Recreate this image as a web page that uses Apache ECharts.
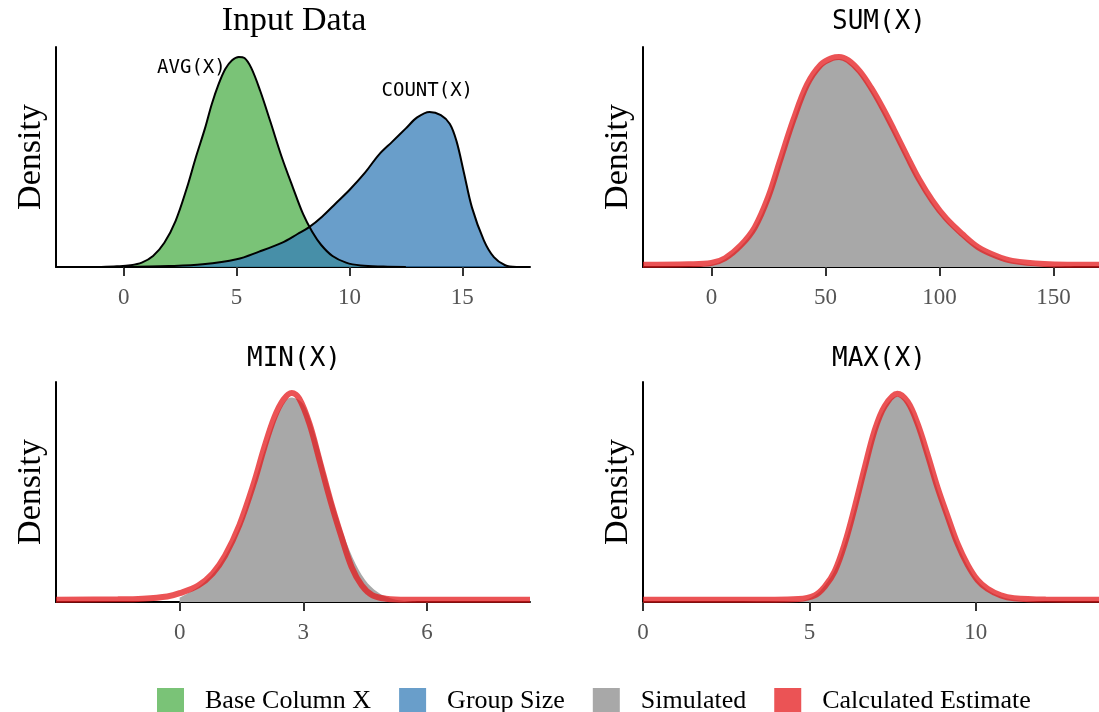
<!DOCTYPE html>
<head>
    <meta charset="utf-8"/>
    <style>
        html, body {
            height: 100%;
            margin: 0;
            background: #fff;
        }
    </style>
    <script src="https://cdn.jsdelivr.net/npm/echarts@6/dist/echarts.min.js"></script>
</head>
<body>
<div id="main" style="width: 1099px; height: 712px;"></div>
<script type="text/javascript">
 // input data densities (y is relative height, 1 = top of panel)
 var avgX = [-1, -0.3, 0.3, 0.8, 1.3, 1.8, 2.3, 2.8, 3.2, 3.6, 3.9, 4.2, 4.5, 4.8, 5.1, 5.35, 5.65, 6.05, 6.5, 7.0, 7.5, 7.95, 8.35, 8.75, 9.25, 9.85, 10.5, 11.5, 12.5];
 var avgY = [0, 0.003, 0.008, 0.02, 0.05, 0.11, 0.21, 0.36, 0.5, 0.63, 0.74, 0.83, 0.9, 0.94, 0.955, 0.95, 0.905, 0.8, 0.66, 0.5, 0.36, 0.24, 0.16, 0.1, 0.05, 0.02, 0.007, 0.002, 0];
 var countX = [0, 2, 3.5, 5, 6, 7, 7.7, 8.2, 8.8, 9.4, 10, 10.7, 11.3, 11.9, 12.5, 13.0, 13.55, 14.05, 14.45, 14.75, 15.07, 15.43, 15.96, 16.4, 16.9, 17.4];
 var countY = [0, 0.004, 0.012, 0.035, 0.07, 0.11, 0.15, 0.18, 0.23, 0.29, 0.35, 0.43, 0.51, 0.57, 0.63, 0.68, 0.705, 0.69, 0.65, 0.57, 0.43, 0.27, 0.12, 0.045, 0.008, 0];

 // SUM(X)
 var sumX = [-30, -10, 0, 6, 13, 19, 25, 30, 36, 42, 48, 53, 56, 60, 65, 70, 75, 80, 86, 91, 97, 103, 110, 117, 125, 132, 146, 170];
 var sumEst = [0.01, 0.012, 0.018, 0.04, 0.1, 0.18, 0.32, 0.48, 0.67, 0.83, 0.92, 0.95, 0.955, 0.94, 0.89, 0.815, 0.725, 0.625, 0.5, 0.4, 0.3, 0.22, 0.15, 0.09, 0.05, 0.028, 0.014, 0.01];
 var sumSim = [0, 0, 0.01, 0.035, 0.095, 0.175, 0.31, 0.47, 0.66, 0.82, 0.91, 0.94, 0.945, 0.93, 0.88, 0.805, 0.715, 0.615, 0.49, 0.39, 0.29, 0.21, 0.14, 0.085, 0.045, 0.022, 0.005, 0];

 // MIN(X)
 var minX = [-3, -1.5, -0.9, -0.3, 0, 0.45, 0.8, 1.1, 1.45, 1.8, 2.05, 2.3, 2.52, 2.72, 2.9, 3.15, 3.4, 3.66, 3.92, 4.17, 4.42, 4.68, 5.0, 5.5, 8.5];
 var minEst = [0.01, 0.012, 0.015, 0.025, 0.04, 0.075, 0.13, 0.21, 0.35, 0.54, 0.70, 0.84, 0.92, 0.95, 0.925, 0.81, 0.64, 0.46, 0.3, 0.16, 0.075, 0.03, 0.015, 0.01, 0.01];
 var minSimX = [0, 0.3, 0.6, 0.9, 1.2, 1.5, 1.8, 2.1, 2.4, 2.7, 3.0, 3.3, 3.6, 3.9, 4.2, 4.5, 4.8, 5.1, 5.4, 5.8];
 var minSim = [0.02, 0.05, 0.09, 0.15, 0.24, 0.36, 0.53, 0.71, 0.86, 0.93, 0.9, 0.75, 0.54, 0.35, 0.2, 0.1, 0.045, 0.018, 0.006, 0];

 // MAX(X)
 var maxX = [0, 3, 4.67, 5.16, 5.46, 5.76, 6.06, 6.36, 6.66, 6.96, 7.26, 7.64, 7.95, 8.25, 8.55, 8.85, 9.15, 9.45, 9.75, 10.05, 10.35, 10.75, 11.15, 12.1, 13.7];
 var maxEst = [0.01, 0.01, 0.014, 0.03, 0.07, 0.14, 0.265, 0.43, 0.61, 0.78, 0.89, 0.947, 0.91, 0.81, 0.67, 0.52, 0.39, 0.265, 0.17, 0.1, 0.06, 0.03, 0.017, 0.011, 0.01];
 var maxSim = [0, 0, 0.004, 0.03, 0.075, 0.145, 0.265, 0.42, 0.6, 0.77, 0.88, 0.935, 0.9, 0.8, 0.66, 0.51, 0.38, 0.26, 0.165, 0.095, 0.055, 0.025, 0.01, 0, 0];

 // axis ranges and tick labels
 var xRanges = [[-3, 18], [-30, 170], [-3, 8.5], [0, 13.7]];
 var xTicks = [[0, 5, 10, 15], [0, 50, 100, 150], [0, 3, 6], [0, 5, 10]];
 var titles = ['Input Data', 'SUM(X)', 'MIN(X)', 'MAX(X)'];

 var serif = 'Liberation Serif';
 var mono = 'DejaVu Sans Mono';
 var GREEN = '#4DAF4A', BLUE = '#377EB8', RED = '#E41A1C', GRAY = '#A8A8A8';

 function pairs(xs, ys) {
     var out = [];
     for (var i = 0; i < xs.length; i++) out.push([xs[i], ys[i]]);
     return out;
 }

 var grids = [
     {left: 56, top: 47, width: 474, height: 220},
     {left: 643, top: 47, right: 0, height: 220},
     {left: 56, top: 382, width: 474, height: 220},
     {left: 643, top: 382, right: 0, height: 220}
 ];

 var xAxes = [], yAxes = [];
 for (var i = 0; i < 4; i++) {
     xAxes.push({
         type: 'value', gridIndex: i, min: xRanges[i][0], max: xRanges[i][1],
         splitLine: {show: false},
         axisLine: {onZero: false, lineStyle: {color: '#000', width: 2}},
         axisTick: {show: true, length: 9, lineStyle: {color: '#333', width: 2}, customValues: xTicks[i]},
         axisLabel: {customValues: xTicks[i], margin: 19, fontFamily: serif, fontSize: 23, color: '#555'}
     });
     yAxes.push({
         type: 'value', gridIndex: i, min: 0, max: 1,
         name: 'Density', nameLocation: 'middle', nameRotate: 90, nameGap: 8,
         nameTextStyle: {fontFamily: serif, fontSize: 34, color: '#000'},
         splitLine: {show: false},
         axisTick: {show: false},
         axisLabel: {show: false},
         axisLine: {show: true, onZero: false, lineStyle: {color: '#000', width: 2}}
     });
 }

 var titleList = [];
 var centers = [294, 879, 294, 879];
 var tops = [4, 9, 346, 346];
 for (var i = 0; i < 4; i++) {
     titleList.push({
         text: titles[i], left: centers[i], top: tops[i], textAlign: 'center', padding: 0,
         textStyle: {fontFamily: i === 0 ? serif : mono, fontSize: i === 0 ? 34 : 26, fontWeight: 'normal', color: '#000'}
     });
 }

 function simSeries(idx, xs, ys) {
     return {
         name: 'Simulated', type: 'line', xAxisIndex: idx, yAxisIndex: idx,
         data: pairs(xs, ys), smooth: 0.35, symbol: 'none',
         itemStyle: {color: GRAY},
         lineStyle: {width: 0}, areaStyle: {color: GRAY, opacity: 1}
     };
 }
 function estSeries(idx, xs, ys) {
     return {
         name: 'Calculated Estimate', type: 'line', xAxisIndex: idx, yAxisIndex: idx,
         data: pairs(xs, ys), smooth: 0.35, symbol: 'none',
         itemStyle: {color: RED},
         lineStyle: {color: RED, width: 6, opacity: 0.75}
     };
 }

 var series = [
     {
         name: 'Base Column X', type: 'line', xAxisIndex: 0, yAxisIndex: 0,
         data: pairs(avgX, avgY), smooth: 0.35, symbol: 'none',
         itemStyle: {color: GREEN},
         lineStyle: {color: '#000', width: 2},
         areaStyle: {color: GREEN, opacity: 0.75},
         markPoint: {
             symbol: 'circle', symbolSize: 1, silent: true,
             itemStyle: {color: 'rgba(0,0,0,0)'},
             label: {show: true, position: 'inside', fontFamily: mono, fontSize: 19, color: '#000'},
             data: [
                 {coord: [3.0, 0.905], value: 'AVG(X)', label: {formatter: 'AVG(X)'}},
                 {coord: [13.45, 0.8], value: 'COUNT(X)', label: {formatter: 'COUNT(X)'}}
             ]
         }
     },
     {
         name: 'Group Size', type: 'line', xAxisIndex: 0, yAxisIndex: 0,
         data: pairs(countX, countY), smooth: 0.35, symbol: 'none',
         itemStyle: {color: BLUE},
         lineStyle: {color: '#000', width: 2},
         areaStyle: {color: BLUE, opacity: 0.75}
     },
     simSeries(1, sumX, sumSim), estSeries(1, sumX, sumEst),
     simSeries(2, minSimX, minSim), estSeries(2, minX, minEst),
     simSeries(3, maxX, maxSim), estSeries(3, maxX, maxEst)
 ];

 var option = {
     animation: false,
     backgroundColor: '#fff',
     title: titleList,
     grid: grids,
     xAxis: xAxes,
     yAxis: yAxes,
     legend: {
         left: 152, top: 683, itemWidth: 27, itemHeight: 27, itemGap: 28,
         selectedMode: false,
         textStyle: {fontFamily: serif, fontSize: 26, color: '#000', padding: [0, 0, 0, 16]},
         data: [
             {name: 'Base Column X', icon: 'rect', itemStyle: {color: '#7AC377', borderWidth: 0}},
             {name: 'Group Size', icon: 'rect', itemStyle: {color: '#699ECA', borderWidth: 0}},
             {name: 'Simulated', icon: 'rect', itemStyle: {color: GRAY, borderWidth: 0}},
             {name: 'Calculated Estimate', icon: 'rect', itemStyle: {color: '#EB5355', borderWidth: 0}}
         ]
     },
     series: series
 };

 var myChart = echarts.init(document.getElementById('main'));
 myChart.setOption(option);
</script>
</body>
